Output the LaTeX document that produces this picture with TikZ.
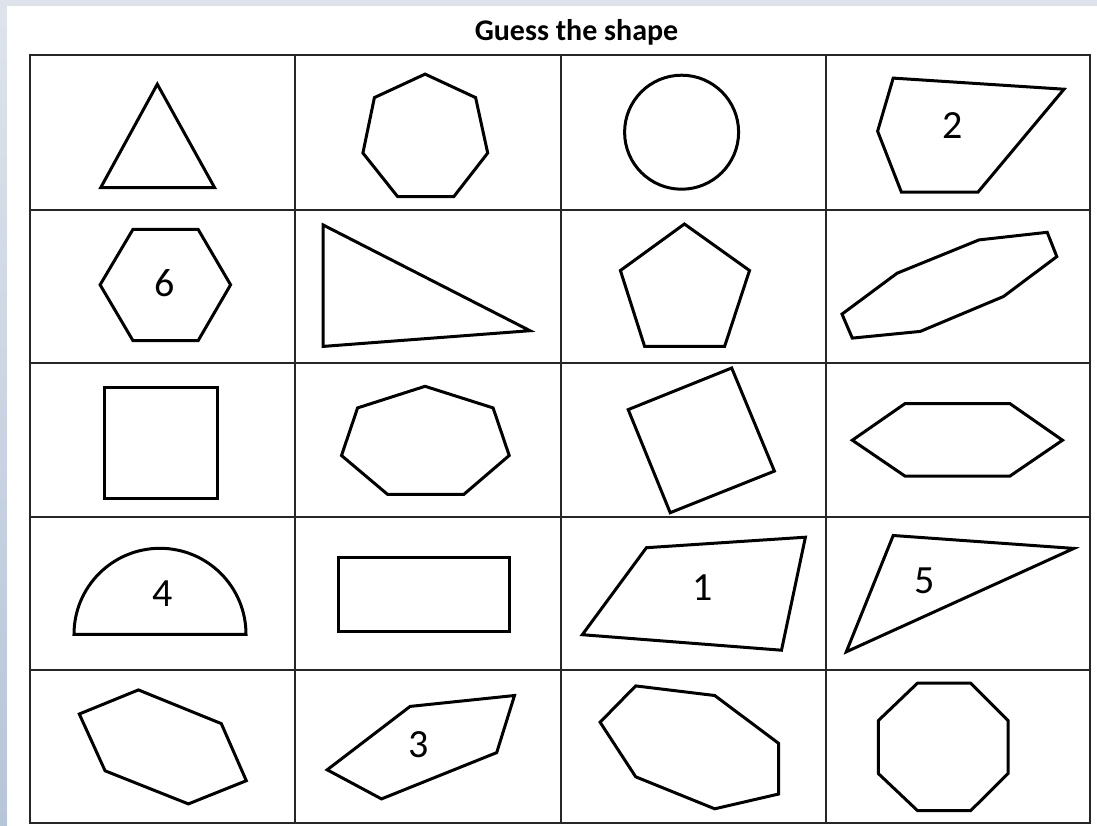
\documentclass[tikz,border=0pt]{standalone}
\usepackage{fontspec}
\setmainfont{Carlito}
\begin{document}
\begin{tikzpicture}[x=1pt,y=-1pt,
  gridline/.style={draw=black!85,line width=1.8pt},
  shapeline/.style={draw=black,line width=3pt,line join=miter},
  numlabel/.style={font=\fontsize{40}{48}\selectfont,inner sep=0pt},
  titlelabel/.style={font=\bfseries\fontsize{30}{36}\selectfont,inner sep=0pt}]
\useasboundingbox (0,0) rectangle (1097,825);
% background
\fill[color={rgb,255:red,222;green,227;blue,235}] (0,0) rectangle (1097,825);
\shade[top color={rgb,255:red,222;green,227;blue,235},bottom color={rgb,255:red,183;green,197;blue,216}] (0,6) rectangle (7,825);
\fill[white] (7,6) rectangle (1097,825);
% title
\node[titlelabel,anchor=base] (title) at (576.5,40) {Guess the shape};
% grid
\draw[gridline] (30,55) rectangle (1090,823);
\foreach \cx in {295,561,826} \draw[gridline] (\cx,55) -- (\cx,823);
\foreach \ry in {210,363,517,670} \draw[gridline] (30,\ry) -- (1090,\ry);
% row 1
\draw[shapeline] (157.3,84.2) -- (214.5,187.5) -- (100.8,187.5) -- cycle;
\draw[shapeline] (425.1,74.1) -- (475.6,97.6) -- (487.7,153) -- (453.8,196.6) -- (397.6,196.6) -- (362.9,153) -- (374.4,97.6) -- cycle;
\draw[shapeline] (681.6,132.2) circle[radius=57];
\draw[shapeline] (893.2,78.1) -- (1064,89.2) -- (977.9,192.2) -- (901.4,192.2) -- (877.6,131.2) -- cycle;
\node[numlabel] (n2) at (952.3,125.5) {2};
% row 2
\draw[shapeline] (133,229.3) -- (198.1,229.3) -- (230.6,284.8) -- (198.1,340.7) -- (133,340.7) -- (100.1,284.8) -- cycle;
\node[numlabel] (n6) at (164.5,283.2) {6};
\draw[shapeline] (323.2,225) -- (530,330.7) -- (323.2,346.4) -- cycle;
\draw[shapeline] (684.4,224) -- (749.5,270.5) -- (724.6,346.4) -- (644.6,346.4) -- (620.4,270.5) -- cycle;
\draw[shapeline] (1047.2,232.3) -- (1056.8,256.6) -- (1003.5,296.5) -- (920.3,331.4) -- (852.3,338.1) -- (842,314.1) -- (897.1,273.2) -- (979,239.9) -- cycle;
% row 3
\draw[shapeline] (104.4,387) rectangle (217.7,498.7);
\draw[shapeline] (425.1,386.3) -- (493.1,407.9) -- (509.2,455.5) -- (463.8,494.4) -- (387.6,494.4) -- (341.5,455.5) -- (357.6,407.9) -- cycle;
\draw[shapeline] (731.7,368) -- (774.4,471.1) -- (670.2,512.7) -- (628.2,409.6) -- cycle;
\draw[shapeline] (905,403.6) -- (1009.9,403.6) -- (1062.5,440.2) -- (1009.9,476.1) -- (905,476.1) -- (852.3,440.2) -- cycle;
% row 4
\draw[shapeline] (74,634.3) arc[start angle=180,end angle=360,radius=86] -- cycle;
\node[numlabel] (n4) at (162.7,593.3) {4};
\draw[shapeline] (338.6,557.7) rectangle (509.2,631);
\draw[shapeline] (646.4,547.7) -- (805.4,537.2) -- (781.5,650.2) -- (582.3,634.7) -- cycle;
\node[numlabel] (n1) at (702.6,587.4) {1};
\draw[shapeline] (893.2,535.5) -- (1073.9,548.4) -- (846.3,651.8) -- cycle;
\node[numlabel] (n5) at (924.5,580.5) {5};
% row 5
\draw[shapeline] (138.4,689.9) -- (221.3,723.6) -- (246.3,780.7) -- (188.4,803.9) -- (105.1,770.8) -- (79.3,714) -- cycle;
\draw[shapeline] (514.5,695.5) -- (496.7,752.6) -- (381.5,798.9) -- (327.2,769.8) -- (410.1,706.4) -- cycle;
\node[numlabel] (n3) at (419,744.4) {3};
\draw[shapeline] (635.7,685.9) -- (714.7,695.5) -- (778.7,743.4) -- (778.7,794) -- (714.7,808.8) -- (635.7,776.8) -- (600.1,722.2) -- cycle;
\draw[shapeline] (917.4,683.2) -- (970.8,683.2) -- (1008.1,720.6) -- (1008.1,773.5) -- (970.8,810.5) -- (917.4,810.5) -- (878.3,773.5) -- (878.3,720.6) -- cycle;
\end{tikzpicture}
\end{document}
